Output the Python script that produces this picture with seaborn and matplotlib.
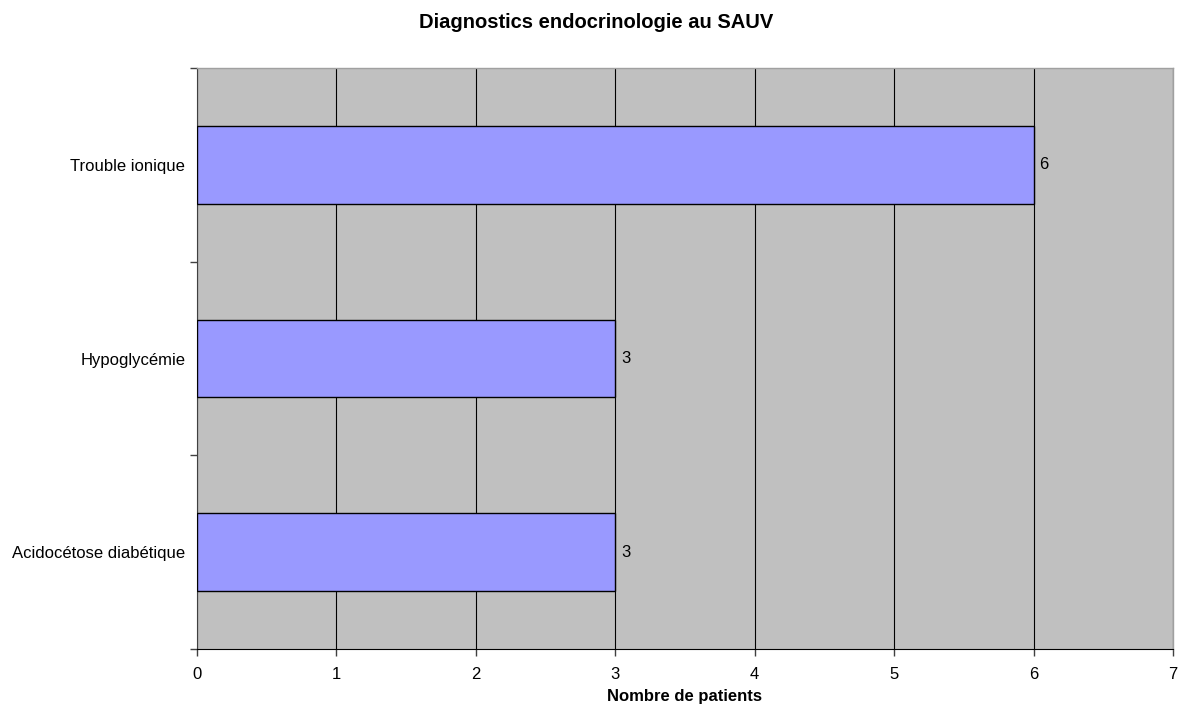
import pandas as pd
import numpy as np
import matplotlib.pyplot as plt
import seaborn as sns

# ==========================================
# DATA
# ==========================================

diagnostics = ["Trouble ionique", "Hypoglycémie", "Acidocétose diabétique"]
patients = [6, 3, 3]

df = pd.DataFrame({"Diagnostic": diagnostics, "Patients": patients})

# ==========================================
# STYLE
# ==========================================

sns.set_style("white")
plt.rcParams["font.family"] = ["Liberation Sans", "DejaVu Sans"]
plt.rcParams["text.color"] = "black"
plt.rcParams["xtick.color"] = "black"
plt.rcParams["ytick.color"] = "black"
plt.rcParams["axes.labelcolor"] = "black"

fig = plt.figure(figsize=(11.79, 7.09), dpi=100)
ax = fig.add_axes([0.1671, 0.0846, 0.8278, 0.8195])
ax.set_facecolor("#C0C0C0")

# ==========================================
# BARS
# ==========================================

sns.barplot(
    data=df,
    x="Patients",
    y="Diagnostic",
    order=diagnostics,
    orient="h",
    width=0.4,
    color="#9999FF",
    saturation=1,
    edgecolor="black",
    linewidth=1,
    ax=ax,
    zorder=3
)

for c in ax.containers:
    ax.bar_label(c, fmt="%d", padding=4, fontsize=12)

# ==========================================
# AXES
# ==========================================

ax.set_xlim(0, 7)
ax.set_ylim(2.5, -0.5)
ax.set_xticks(range(0, 8))
ax.grid(axis="x", color="black", linewidth=0.8, zorder=0)
ax.set_axisbelow(True)

ax.set_yticks(np.arange(-0.5, 3, 1), minor=True)
ax.tick_params(axis="y", which="major", length=0, labelsize=12, pad=8.5)
ax.tick_params(axis="y", which="minor", length=5, width=1, color="#404040", left=True)
ax.tick_params(axis="x", length=5, width=1, color="#404040", bottom=True, labelsize=12, pad=8)

for side in ["top", "right"]:
    ax.spines[side].set_color("#A0A0A0")
    ax.spines[side].set_linewidth(1)
ax.spines["left"].set_color("#404040")
ax.spines["bottom"].set_color("black")

ax.set_ylabel("")
ax.set_xlabel("Nombre de patients", fontsize=12, fontweight="bold", labelpad=5)
fig.suptitle("Diagnostics endocrinologie au SAUV", x=0.506, y=0.982,
             fontsize=14.5, fontweight="bold", va="top")

fig.savefig("out.png", dpi=100)
